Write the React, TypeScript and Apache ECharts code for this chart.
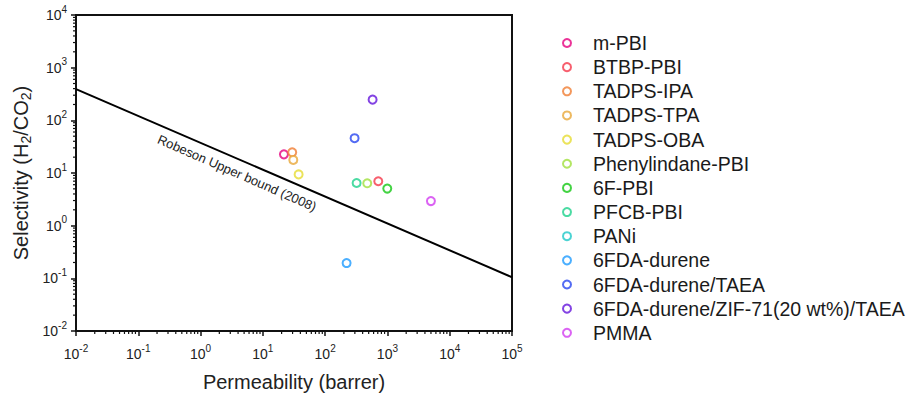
import React, { useEffect, useRef } from "react";
import * as echarts from "echarts";

const materials = [
  "m-PBI",
  "BTBP-PBI",
  "TADPS-IPA",
  "TADPS-TPA",
  "TADPS-OBA",
  "Phenylindane-PBI",
  "6F-PBI",
  "PFCB-PBI",
  "PANi",
  "6FDA-durene",
  "6FDA-durene/TAEA",
  "6FDA-durene/ZIF-71(20 wt%)/TAEA",
  "PMMA",
];
const colors = [
  "#e6007e",
  "#f5374a",
  "#f07d32",
  "#e8a838",
  "#e6dc32",
  "#a0e03c",
  "#14c814",
  "#1ed28c",
  "#1ec8c8",
  "#1e9bff",
  "#2846f0",
  "#6414dc",
  "#d23cf0",
];
// H2 permeability (barrer), null = not shown in plot range
const permeability: (number | null)[] = [21.8, 713, 29.6, 30.8, 37.5, 474, 994, 320, null, 221, 297, 578, 4990];
// H2/CO2 selectivity
const selectivity: (number | null)[] = [22.6, 6.97, 24.7, 17.7, 9.4, 6.38, 5.06, 6.46, null, 0.195, 45.8, 247, 2.93];

// Robeson upper bound (2008) end points
const robesonX = [0.01, 100000];
const robesonY = [392, 0.105];

const xMin = 0.01;
const xMax = 100000;
const yMin = 0.01;
const yMax = 10000;
const xDecades = [-2, -1, 0, 1, 2, 3, 4];
const yDecades = [-2, -1, 0, 1, 2, 3];
const minorMultipliers = [2, 3, 4, 5, 6, 7, 8, 9];

const FONT = "Liberation Sans, Arial, sans-serif";

export default function App() {
  const ref = useRef<HTMLDivElement>(null);
  useEffect(() => {
    if (!ref.current) return;
    const chart = echarts.init(ref.current, undefined, { renderer: "svg" });

    const xMinor: number[][] = [];
    xDecades.forEach((d) => minorMultipliers.forEach((m) => xMinor.push([m * Math.pow(10, d), yMin])));
    const yMinor: number[][] = [];
    yDecades.forEach((d) => minorMultipliers.forEach((m) => yMinor.push([xMin, m * Math.pow(10, d)])));

    const tickLabel = (v: number) => `{b|10}{s|${Math.round(Math.log10(v))}}`;
    const richLabel = {
      b: { fontSize: 14, fontFamily: FONT, color: "#222" },
      s: { fontSize: 10, fontFamily: FONT, color: "#222", padding: [0, 0, 12, 0] },
    };

    const scatterSeries = materials.map((name, i) => ({
      name,
      type: "scatter",
      symbol: "circle",
      symbolSize: 8,
      itemStyle: { color: "#fff", borderColor: colors[i], borderWidth: 2 },
      data:
        permeability[i] != null && selectivity[i] != null
          ? [[permeability[i] as number, selectivity[i] as number]]
          : [],
      z: 5,
    }));

    chart.setOption({
      animation: false,
      textStyle: { fontFamily: FONT },
      grid: {
        left: 76,
        right: 396,
        top: 15,
        bottom: 62,
        show: true,
        borderColor: "#111",
        borderWidth: 2,
        containLabel: false,
      },
      xAxis: {
        type: "log",
        logBase: 10,
        min: xMin,
        max: xMax,
        splitNumber: 7,
        name: "Permeability (barrer)",
        nameLocation: "middle",
        nameGap: 41,
        nameTextStyle: { fontSize: 20, color: "#222", fontFamily: FONT },
        axisLine: { show: true, lineStyle: { color: "#111", width: 2 } },
        axisTick: { show: true, inside: false, length: 5, lineStyle: { color: "#111", width: 1.5 } },
        splitLine: { show: false },
        minorTick: { show: false },
        axisLabel: { margin: 12, formatter: tickLabel, rich: richLabel },
      },
      yAxis: {
        type: "log",
        logBase: 10,
        min: yMin,
        max: yMax,
        splitNumber: 6,
        name: "Selectivity (H{sub|2}/CO{sub|2})",
        nameLocation: "middle",
        nameGap: 43,
        nameTextStyle: {
          fontSize: 20,
          color: "#222",
          fontFamily: FONT,
          rich: {
            sub: { fontSize: 14, fontFamily: FONT, color: "#222", padding: [10, 0, 0, 0] },
          },
        },
        axisLine: { show: true, lineStyle: { color: "#111", width: 2 } },
        axisTick: { show: true, inside: false, length: 5, lineStyle: { color: "#111", width: 1.5 } },
        splitLine: { show: false },
        minorTick: { show: false },
        axisLabel: { margin: 9, formatter: tickLabel, rich: richLabel },
      },
      legend: {
        orient: "vertical",
        left: 557,
        top: 28,
        itemWidth: 8,
        itemHeight: 8,
        itemGap: 4.15,
        icon: "circle",
        data: materials,
        textStyle: {
          fontSize: 19.5,
          lineHeight: 19,
          color: "#1a1a1a",
          fontFamily: FONT,
          padding: [0, 0, 0, 17],
        },
        itemStyle: { color: "#fff", borderWidth: 2 },
      },
      graphic: [
        {
          type: "text",
          x: 237,
          y: 173,
          rotation: (-23.6 * Math.PI) / 180,
          style: {
            text: "Robeson Upper bound (2008)",
            fontSize: 13,
            fontFamily: FONT,
            fill: "#222",
            align: "center",
            verticalAlign: "middle",
          },
        },
      ],
      series: [
        ...scatterSeries,
        {
          name: "Robeson",
          type: "line",
          data: robesonX.map((x, i) => [x, robesonY[i]]),
          symbol: "none",
          lineStyle: { color: "#000", width: 2 },
          z: 3,
        },
        {
          name: "xMinor",
          type: "custom",
          clip: false,
          silent: true,
          data: xMinor,
          renderItem: (params: any, api: any) => {
            const p = api.coord([api.value(0), api.value(1)]);
            return {
              type: "line",
              shape: { x1: p[0], y1: p[1], x2: p[0], y2: p[1] + 3 },
              style: { stroke: "#111", lineWidth: 1.2 },
            };
          },
        },
        {
          name: "yMinor",
          type: "custom",
          clip: false,
          silent: true,
          data: yMinor,
          renderItem: (params: any, api: any) => {
            const p = api.coord([api.value(0), api.value(1)]);
            return {
              type: "line",
              shape: { x1: p[0], y1: p[1], x2: p[0] - 3, y2: p[1] },
              style: { stroke: "#111", lineWidth: 1.2 },
            };
          },
        },
      ],
    });
    return () => chart.dispose();
  }, []);
  return (
    <div
      ref={ref}
      style={{ position: "fixed", left: 0, top: 0, width: 908, height: 397, background: "#fff" }}
    />
  );
}
